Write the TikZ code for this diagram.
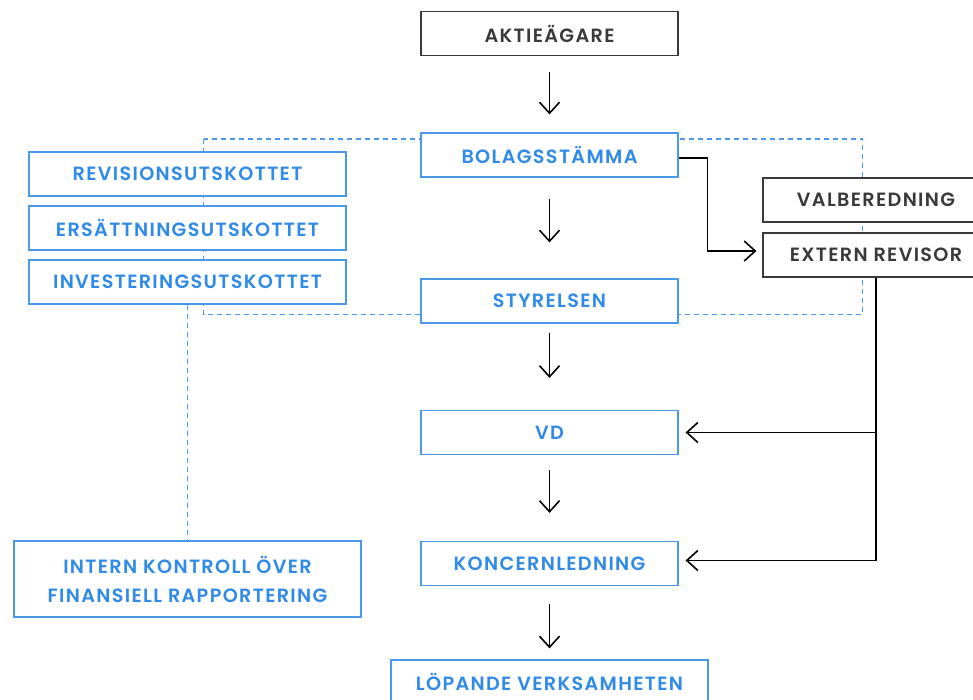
\documentclass[tikz,border=0pt]{standalone}
\usepackage{fontspec}
\setmainfont{Poppins}[UprightFont={* SemiBold}, LetterSpace=7]
\usetikzlibrary{arrows.meta}
\definecolor{blu}{HTML}{2F8AE8}
\definecolor{bluline}{HTML}{4A98EA}
\definecolor{dk}{HTML}{3A3A3A}
\begin{document}
\begin{tikzpicture}[x=1pt,y=-1pt,
  box/.style={draw, rectangle, fill=white, minimum height=44pt, inner sep=0pt, line width=1.2pt, font=\fontsize{19.2}{29}\selectfont},
  bbox/.style={box, draw=bluline, text=blu},
  kbox/.style={box, draw=dk, text=dk},
  arr/.style={-{Straight Barb[length=11pt,width=20pt,line width=1.6pt]}, line width=1.6pt, black},
  dsh/.style={draw=bluline, line width=1.1pt, dash pattern=on 5pt off 4pt}]
\clip (0,0) rectangle (973,699);
\draw[dsh] (203.5,139) rectangle (862.5,314.5);
\node[kbox, minimum width=257pt] (akt) at (549.5,33.5) {AKTIEÄGARE};
\node[bbox, minimum width=257pt] (bol) at (549.5,155) {BOLAGSSTÄMMA};
\node[bbox, minimum width=257pt] (sty) at (549.5,301) {STYRELSEN};
\node[bbox, minimum width=257pt] (vd) at (549.5,432.5) {VD};
\node[bbox, minimum width=257pt] (kon) at (549.5,563.5) {KONCERNLEDNING};
\node[bbox, minimum width=317pt] (lop) at (549.5,682) {LÖPANDE VERKSAMHETEN};
\node[bbox, minimum width=317pt] (rev) at (187.5,174) {REVISIONSUTSKOTTET};
\node[bbox, minimum width=317pt] (ers) at (187.5,228) {ERSÄTTNINGSUTSKOTTET};
\node[bbox, minimum width=317pt] (inv) at (187.5,282) {INVESTERINGSUTSKOTTET};
\node[bbox, minimum width=347pt, minimum height=76pt, align=center] (int) at (187.5,579) {INTERN KONTROLL ÖVER\\FINANSIELL RAPPORTERING};
\node[kbox, minimum width=226pt] (val) at (876,200) {VALBEREDNING};
\node[kbox, minimum width=226pt] (ext) at (876,255) {EXTERN REVISOR};
\draw[dsh] (inv.south) -- (int.north);
\draw[arr, shorten <=16pt, shorten >=18pt] (akt.south) -- (bol.north);
\draw[arr, shorten <=21pt, shorten >=36pt] (bol.south) -- (sty.north);
\draw[arr, shorten <=9pt, shorten >=32pt] (sty.south) -- (vd.north);
\draw[arr, shorten <=15pt, shorten >=28pt] (vd.south) -- (kon.north);
\draw[arr, shorten <=18pt, shorten >=11pt] (kon.south) -- (lop.north);
\draw[arr, shorten >=6pt] ([yshift=-3pt]bol.east) -- ++(29,0) |- ([yshift=4pt]ext.west);
\draw[arr, shorten >=7pt] (ext.south) |- ([yshift=3pt]kon.east);
\draw[arr, shorten >=7pt] (ext.south |- vd.east) -- (vd.east);
\end{tikzpicture}
\end{document}
